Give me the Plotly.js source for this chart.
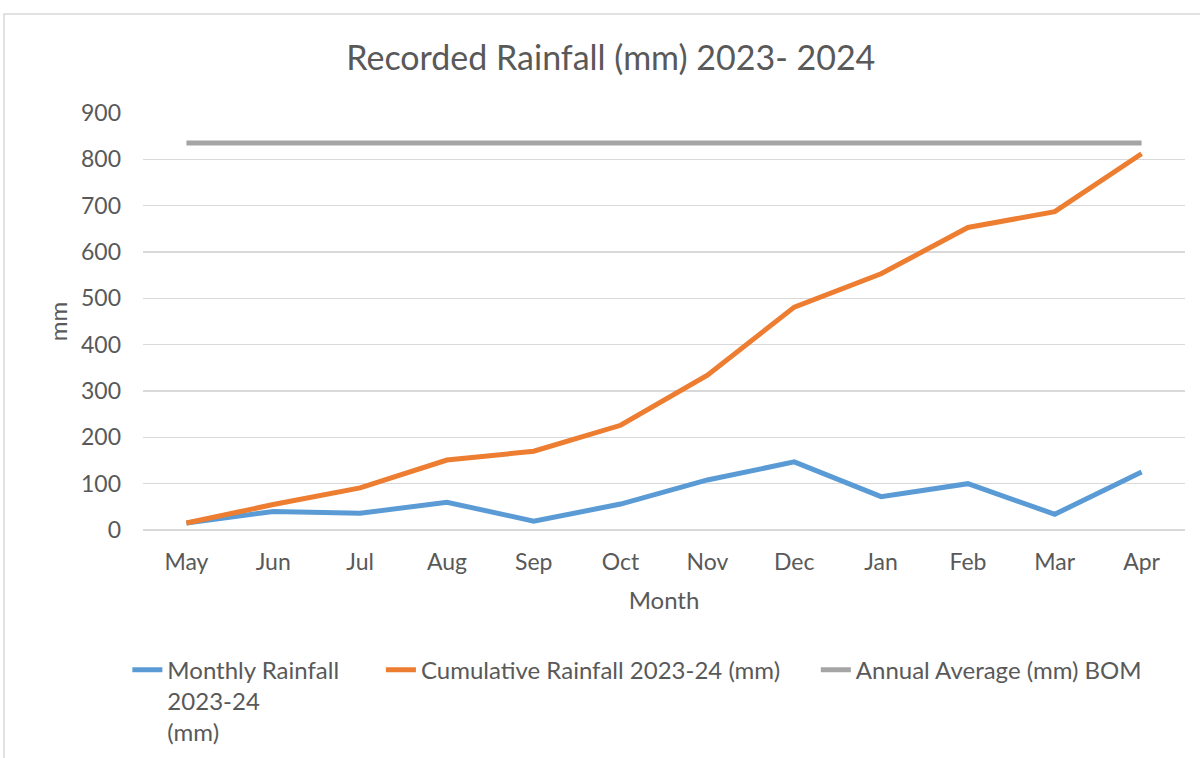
<!DOCTYPE html>
<html>
<head>
<meta charset="utf-8">
<script src="https://cdn.plot.ly/plotly-3.0.1.min.js"></script>
<style>html,body{margin:0;padding:0;background:#fff;}#chart{width:1200px;height:758px;}</style>
</head>
<body>
<div id="chart"></div>
<script>
const months = ["May","Jun","Jul","Aug","Sep","Oct","Nov","Dec","Jan","Feb","Mar","Apr"];
const monthlyRainfall = [15, 40, 36, 60, 19, 56, 108, 147, 72, 100, 34, 125];
const cumulativeRainfall = [15, 55, 91, 151, 170, 226, 334, 481, 553, 653, 687, 812];
const annualAverage = [835, 835, 835, 835, 835, 835, 835, 835, 835, 835, 835, 835];
const seriesNames = ["Monthly Rainfall\u00a0\u00a0\u00a0\u00a0\u00a0\u00a0<br>2023-24<br>(mm)",
                     "Cumulative Rainfall 2023-24 (mm)\u00a0\u00a0\u00a0\u00a0\u00a0",
                     "Annual Average (mm) BOM"];

const font = "Lato, 'Open Sans', 'Liberation Sans', sans-serif";
const traces = [
  {x: months, y: monthlyRainfall, name: seriesNames[0], type: "scatter", mode: "lines",
   line: {color: "#5b9bd5", width: 5}},
  {x: months, y: cumulativeRainfall, name: seriesNames[1], type: "scatter", mode: "lines",
   line: {color: "#ed7d31", width: 5}},
  {x: months, y: annualAverage, name: seriesNames[2], type: "scatter", mode: "lines",
   line: {color: "#a5a5a5", width: 5}}
];

const layout = {
  width: 1200, height: 758,
  margin: {l: 143, r: 15, t: 113, b: 228, autoexpand: false},
  paper_bgcolor: "#fff", plot_bgcolor: "#fff",
  font: {family: font, color: "#595959", size: 23},
  title: {text: "Recorded Rainfall (mm) 2023- 2024", x: 0.509, xanchor: "center", y: 0.923, yanchor: "middle",
          font: {size: 34, color: "#595959", family: font}},
  xaxis: {type: "category", range: [-0.5, 11.5], showgrid: false, zeroline: false,
          showline: false, ticks: "", tickfont: {size: 23, color: "#595959"}, ticklabelstandoff: 16,
          title: {text: "Month", font: {size: 24, color: "#595959"}, standoff: 18}},
  yaxis: {range: [0, 900], dtick: 100, showgrid: true, gridcolor: "#d9d9d9", gridwidth: 1.5,
          zeroline: true, zerolinecolor: "#d9d9d9", zerolinewidth: 1.5, showline: false, ticks: "",
          tickfont: {size: 23, color: "#595959"}, ticklabelstandoff: 21,
          title: {text: "mm", font: {size: 24, color: "#595959"}, standoff: 6}},
  showlegend: true,
  legend: {orientation: "h", x: -0.015, xanchor: "left", y: -0.282, yanchor: "top",
           valign: "top", font: {size: 24, color: "#595959"}, tracegroupgap: 0},
  shapes: [{type: "rect", xref: "paper", yref: "paper", x0: -0.1334, x1: 1.2, y0: -1, y1: 1.2374,
            line: {color: "#d9d9d9", width: 1.5}, fillcolor: "rgba(0,0,0,0)", layer: "below"}]
};

Plotly.newPlot("chart", traces, layout, {staticPlot: true, displayModeBar: false});
</script>
</body>
</html>
